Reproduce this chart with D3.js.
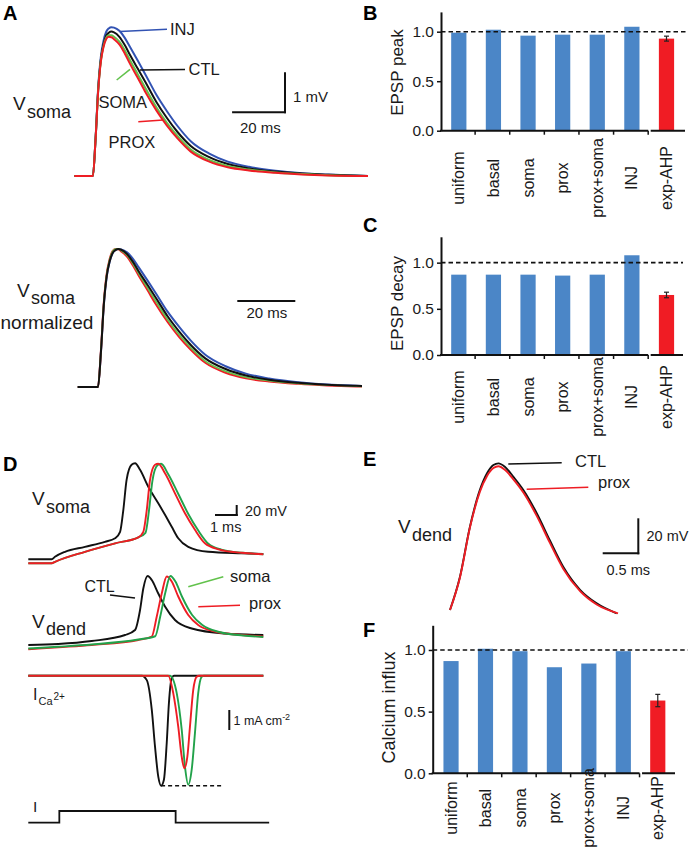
<!DOCTYPE html>
<html><head><meta charset="utf-8">
<script src="https://cdn.jsdelivr.net/npm/d3@7"></script>
<style>
body{margin:0;background:#fff;}
svg{display:block;font-family:"Liberation Sans",Arial,Helvetica,sans-serif;}
</style></head><body>
<svg id="fig" width="690" height="853"></svg>
<script>
// ================= DATA =================
// Panel A: somatic EPSP (time ms, amplitude mV)
const tA = [-1, 6, 7, 8, 9, 10, 11, 12, 13, 14, 16, 18, 20, 23, 26, 30, 34, 38, 43, 50, 57, 65, 75, 85, 95, 110];
const epspINJ  = [0, 0, 0.92, 2.2, 2.97, 3.37, 3.6, 3.69, 3.72, 3.71, 3.63, 3.46, 3.23, 2.88, 2.52, 2.03, 1.62, 1.25, 0.87, 0.56, 0.36, 0.23, 0.13, 0.07, 0.035, 0];
const epspCTL  = [0, 0, 0.9, 2.15, 2.9, 3.28, 3.5, 3.58, 3.61, 3.59, 3.48, 3.28, 3.03, 2.68, 2.33, 1.85, 1.45, 1.1, 0.75, 0.47, 0.3, 0.19, 0.11, 0.06, 0.03, 0];
const epspSOMA = [0, 0, 0.9, 2.13, 2.87, 3.24, 3.45, 3.52, 3.52, 3.48, 3.36, 3.15, 2.9, 2.54, 2.18, 1.72, 1.33, 1.0, 0.66, 0.4, 0.25, 0.16, 0.09, 0.05, 0.02, 0];
const epspPROX = [0, 0, 0.9, 2.12, 2.85, 3.22, 3.42, 3.48, 3.47, 3.42, 3.29, 3.07, 2.81, 2.45, 2.08, 1.64, 1.26, 0.94, 0.61, 0.36, 0.22, 0.14, 0.08, 0.04, 0.015, 0];

// Bar panels B, C, F
const categories = ["uniform", "basal", "soma", "prox", "prox+soma", "INJ", "exp-AHP"];
const peakVals  = [0.99, 1.02, 0.96, 0.97, 0.97, 1.05, 0.93];
const peakErr   = [0, 0, 0, 0, 0, 0, 0.025];
const decayVals = [0.87, 0.87, 0.87, 0.86, 0.87, 1.08, 0.65];
const decayErr  = [0, 0, 0, 0, 0, 0, 0.03];
const caVals    = [0.91, 1.01, 0.99, 0.86, 0.89, 0.99, 0.59];
const caErr     = [0, 0, 0, 0, 0, 0, 0.05];
const barTicks  = [0, 0.5, 1.0];

// Panel D: [time ms, value]  (V in mV relative, I in mA cm-2)
const dSomaCTL  = [[0,0],[1.08,0],[1.23,5],[1.69,15],[2.61,25],[3.53,35],[4.0,42],[4.23,55],[4.38,99],[4.53,159],[4.76,189],[4.92,192],[5.15,179],[5.53,145],[5.99,112],[6.3,89],[6.61,65],[6.91,42],[7.37,25],[8.29,15],[9.83,12],[10.83,10.6]];
const dSomaSOMA = [[0,-8],[1.08,-8],[1.23,-5],[2.61,15],[4.0,32],[5.07,44],[5.4,53],[5.56,97],[5.72,157],[5.95,188],[6.12,191],[6.45,170],[6.92,130],[7.38,90],[7.84,57],[8.3,31],[8.9,19.5],[9.9,13],[10.83,10]];
const dSomaPROX = [[0,-8],[1.08,-8],[1.23,-5],[2.61,15],[4.0,32],[5.07,44],[5.3,55],[5.46,99],[5.61,159],[5.84,189],[5.99,191],[6.3,172],[6.76,132],[7.22,92],[7.68,59],[8.14,32],[8.76,20],[9.83,13],[10.83,10]];
const dDendCTL  = [[0,0],[1.38,2],[2.92,8],[4.46,20],[4.92,30],[5.15,70],[5.3,113],[5.5,138],[5.69,130],[5.99,103],[6.3,77],[6.76,50],[7.53,33],[9.06,23],[10.83,20]];
const dDendPROX = [[0,-8.6],[1.38,-4.6],[2.92,0],[5.07,10],[5.69,17],[5.92,57],[6.15,103],[6.38,137],[6.61,127],[6.91,97],[7.37,60],[7.83,40],[8.6,27],[9.83,20],[10.83,17]];
const dDendSOMA = [[0,-7],[1.38,-3.5],[2.92,1],[5.07,11],[5.85,17.5],[6.08,57],[6.31,104],[6.55,138],[6.78,127],[7.08,97],[7.55,60],[8.02,40],[8.8,26],[9.9,19],[10.83,16]];
const caCTL  = [[0,0],[5.23,0],[5.46,-0.22],[5.69,-1.7],[5.84,-3.55],[5.99,-5.05],[6.12,-5.5],[6.25,-5.2],[6.38,-3.35],[6.48,-1.37],[6.61,-0.12],[6.71,0],[10.83,0]];
const caPROX = [[0,0],[6.45,0],[6.68,-0.87],[6.91,-2.55],[7.07,-4.05],[7.19,-4.63],[7.33,-4.05],[7.45,-2.55],[7.6,-0.72],[7.76,-0.05],[7.87,0],[10.83,0]];
const caSOMA = [[0,0],[6.53,0],[6.84,-0.87],[7.07,-2.7],[7.22,-4.55],[7.37,-5.45],[7.53,-4.7],[7.68,-2.87],[7.83,-0.87],[7.99,-0.05],[8.1,0],[10.83,0]];
const caDashEnd = 8.99;
const stepT = [0, 1.43, 1.43, 6.79, 6.79, 11.1];
const stepI = [0, 0, 1, 1, 0, 0];

// Panel E: dendritic spike [time ms, mV]
const eCTL  = [[0,1.9],[0.14,20.9],[0.28,49.5],[0.42,70.5],[0.52,80],[0.61,84.7],[0.68,85.7],[0.77,83.8],[0.89,78],[1.03,70.5],[1.22,57.1],[1.4,41.9],[1.59,26.6],[1.83,13.3],[2.06,5.7],[2.34,0]];
const ePROX = [[0,1.9],[0.14,20.5],[0.28,49],[0.42,69.5],[0.52,78.5],[0.61,83],[0.68,84],[0.77,82],[0.89,76.5],[1.03,69],[1.22,55.5],[1.4,40.5],[1.59,25.5],[1.83,12.5],[2.06,5],[2.36,0]];

// ================= STYLE =================
const BLACK = "#111111", RED = "#ee1d24", BLUE_TR = "#3253b3", GREEN = "#22a24a", GREEN_L = "#62c24c";
const BAR_BLUE = "#4b86c7", BAR_RED = "#f01c24", TXT = "#1a1a1a";

const svg = d3.select("#fig");
function txt(x, y, s, size, o = {}) {
  const t = svg.append("text").attr("x", x).attr("y", y).text(s)
    .attr("font-size", size).attr("fill", o.fill || TXT);
  if (o.bold) t.attr("font-weight", "bold");
  if (o.anchor) t.attr("text-anchor", o.anchor);
  return t;
}
function vlab(x, y, sub) { txt(x, y, "V", 19); txt(x + 14, y + 7.5, sub, 18); }
function seg(x1, y1, x2, y2, col, w, dash) {
  const l = svg.append("line").attr("x1", x1).attr("y1", y1).attr("x2", x2).attr("y2", y2)
    .attr("stroke", col).attr("stroke-width", w).attr("stroke-linecap", "butt");
  if (dash) l.attr("stroke-dasharray", dash);
  return l;
}
function trace(g, data, x, y, col, w) {
  g.append("path").datum(data)
    .attr("d", d3.line().x(d => x(d[0])).y(d => y(d[1])).curve(d3.curveMonotoneX))
    .attr("fill", "none").attr("stroke", col).attr("stroke-width", w).attr("stroke-linejoin", "round");
}

// panel letters
[["A",3,20],["B",363,20],["C",363,232],["D",3,471],["E",363,466],["F",363,637]]
  .forEach(([s,x,y]) => txt(x, y, s, 20, {bold: true, fill: "#000"}));

// ================= PANEL A (top) =================
const xA = d3.scaleLinear().domain([0, 110]).range([77, 368]);
const yA = d3.scaleLinear().domain([0, 1]).range([176, 136]);
const gA = svg.append("g");
trace(gA, d3.zip(tA, epspINJ), xA, yA, BLUE_TR, 2);
trace(gA, d3.zip(tA, epspCTL), xA, yA, BLACK, 2);
trace(gA, d3.zip(tA, epspSOMA), xA, yA, GREEN_L, 2);
trace(gA, d3.zip(tA, epspPROX), xA, yA, RED, 2);
seg(120, 31.5, 167, 29.3, BLUE_TR, 1.6); txt(170, 35, "INJ", 16.5);
seg(140, 70, 185, 69.5, BLACK, 1.6); txt(188.5, 75, "CTL", 16.5);
seg(116.7, 80, 130, 69.3, GREEN_L, 1.6); txt(98.5, 108, "SOMA", 16.5);
seg(138.3, 121.7, 163.3, 120, RED, 1.6); txt(108.5, 148, "PROX", 16.5);
vlab(13, 110, "soma");
// scale bar 20 ms / 1 mV
{
  const cx = 285, cy = 112.3, w = xA(20) - xA(0), h = yA(0) - yA(1);
  seg(cx - w, cy, cx + 1, cy, BLACK, 2);
  seg(cx, cy + 1, cx, cy - h, BLACK, 2);
  txt(293, 102, "1 mV", 15);
  txt(240, 133, "20 ms", 15);
}

// ================= PANEL A (normalized) =================
const xAn = d3.scaleLinear().domain([6, 26]).range([98, 156]);
const yAn = d3.scaleLinear().domain([0, 1]).range([387, 249]);
svg.append("defs").append("clipPath").attr("id", "clipAn")
  .append("rect").attr("x", 0).attr("y", 230).attr("width", 362).attr("height", 170);
const gAn = svg.append("g").attr("clip-path", "url(#clipAn)");
const norm = arr => { const m = d3.max(arr); return arr.map(v => v / m); };
trace(gAn, d3.zip(tA, norm(epspINJ)), xAn, yAn, BLUE_TR, 2);
trace(gAn, d3.zip(tA, norm(epspPROX)), xAn, yAn, RED, 2);
trace(gAn, d3.zip(tA, norm(epspSOMA)), xAn, yAn, GREEN_L, 1.6);
trace(gAn, d3.zip(tA, norm(epspCTL)), xAn, yAn, BLACK, 2);
txt(17, 297, "V", 19); txt(31, 303.5, "soma", 18);
txt(0.5, 329, "normalized", 19);
{
  const x0 = 237.3, w = xAn(20) - xAn(0);
  seg(x0, 301, x0 + w, 301, BLACK, 2);
  txt(246.5, 318, "20 ms", 15);
}

// ================= BAR PANELS =================
function barPanel(o) {
  const g = svg.append("g");
  const y = d3.scaleLinear().domain([0, o.yMax]).range([o.y0, o.yTop]);
  const x = d3.scaleBand().domain(categories).range([o.b0, o.b1]).paddingInner(0.56).paddingOuter(0.28);
  const n = categories.length;
  g.selectAll("rect").data(o.vals).join("rect")
    .attr("x", (d, i) => x(categories[i])).attr("y", d => y(d))
    .attr("width", x.bandwidth()).attr("height", d => y(0) - y(d))
    .attr("fill", (d, i) => i === n - 1 ? BAR_RED : BAR_BLUE);
  // error bars
  o.vals.forEach((v, i) => {
    const e = o.errs[i]; if (!e) return;
    const cx = x(categories[i]) + x.bandwidth() / 2;
    g.append("line").attr("x1", cx).attr("x2", cx).attr("y1", y(v - e)).attr("y2", y(v + e)).attr("stroke", "#222").attr("stroke-width", 1.2);
    [v - e, v + e].forEach(vv => g.append("line").attr("x1", cx - 2.5).attr("x2", cx + 2.5).attr("y1", y(vv)).attr("y2", y(vv)).attr("stroke", "#222").attr("stroke-width", 1.2));
  });
  // reference dashed line
  g.append("line").attr("x1", o.ax).attr("x2", o.dashR).attr("y1", y(1)).attr("y2", y(1))
    .attr("stroke", BLACK).attr("stroke-width", 1.6).attr("stroke-dasharray", "4.5,3");
  // y axis
  const ya = g.append("g").attr("transform", `translate(${o.ax},0)`)
    .call(d3.axisLeft(y).tickValues(barTicks).tickFormat(d3.format(".1f")).tickSize(4).tickSizeOuter(0).tickPadding(3));
  ya.attr("font-family", null).attr("font-size", null);
  ya.selectAll("text").attr("font-size", 15.5).attr("fill", TXT);
  ya.select(".domain").attr("stroke", BLACK).attr("stroke-width", 2);
  ya.selectAll(".tick line").attr("stroke", BLACK).attr("stroke-width", 1.5);
  // x axis with break before last category
  const step = x.step();
  const bnd = d3.range(1, n).map(i => o.b0 + i * step);
  const brk = bnd[bnd.length - 1];
  g.append("line").attr("x1", o.ax - 1).attr("x2", brk - 1).attr("y1", y(0)).attr("y2", y(0)).attr("stroke", BLACK).attr("stroke-width", 2);
  g.append("line").attr("x1", brk + 1.5).attr("x2", o.axR).attr("y1", y(0)).attr("y2", y(0)).attr("stroke", BLACK).attr("stroke-width", 2);
  bnd.forEach(b => g.append("line").attr("x1", b - 1).attr("x2", b - 1).attr("y1", y(0)).attr("y2", y(0) + 4).attr("stroke", BLACK).attr("stroke-width", 1.5));
  // category labels
  categories.forEach(c => {
    g.append("text").attr("transform", `translate(${x(c) + x.bandwidth() / 2},${o.labC}) rotate(-90)`)
      .attr("text-anchor", "middle").attr("dy", "0.35em").attr("font-size", 16).attr("fill", TXT).text(c);
  });
  // y title
  g.append("text").attr("transform", `translate(${o.titleX},${o.titleY}) rotate(-90)`)
    .attr("text-anchor", "middle").attr("font-size", o.titleSize).attr("fill", TXT).text(o.title);
}
barPanel({vals: peakVals, errs: peakErr, yMax: 1.2, y0: 130.7, yTop: 11.9, b0: 441.5, b1: 683.8,
  ax: 441, axR: 685, dashR: 687, labC: 178, titleX: 402.5, titleY: 72.5, titleSize: 17, title: "EPSP peak"});
barPanel({vals: decayVals, errs: decayErr, yMax: 1.28, y0: 355, yTop: 236.8, b0: 441.5, b1: 683.8,
  ax: 441, axR: 683, dashR: 683, labC: 397, titleX: 402.5, titleY: 303.5, titleSize: 17, title: "EPSP decay"});
barPanel({vals: caVals, errs: caErr, yMax: 1.2, y0: 773.3, yTop: 625.3, b0: 433.8, b1: 675,
  ax: 432.7, axR: 675, dashR: 688, labC: 808, titleX: 395, titleY: 707.5, titleSize: 18, title: "Calcium influx"});

// ================= PANEL D =================
const xD = d3.scaleLinear().domain([0, 10.83]).range([28.3, 263.3]);
const yDs = d3.scaleLinear().domain([0, 20]).range([559.3, 549.3]);
const yDd = d3.scaleLinear().domain([0, 20]).range([645, 635]);
const yCa = d3.scaleLinear().domain([0, -1]).range([675.7, 695.7]);
const yStep = d3.scaleLinear().domain([0, 1]).range([822.7, 811]);
const gD = svg.append("g");
trace(gD, dSomaCTL, xD, yDs, BLACK, 1.9);
trace(gD, dSomaSOMA, xD, yDs, GREEN, 1.9);
trace(gD, dSomaPROX, xD, yDs, RED, 1.9);
trace(gD, dDendCTL, xD, yDd, BLACK, 1.9);
trace(gD, dDendPROX, xD, yDd, RED, 1.9);
trace(gD, dDendSOMA, xD, yDd, GREEN, 1.9);
trace(gD, caCTL, xD, yCa, BLACK, 1.9);
trace(gD, caSOMA, xD, yCa, GREEN, 1.9);
trace(gD, caPROX, xD, yCa, RED, 1.9);
{
  const mn = d3.min(caCTL, d => d[1]);
  const tMin = caCTL.find(d => d[1] === mn)[0];
  gD.append("line").attr("x1", xD(tMin)).attr("x2", xD(caDashEnd)).attr("y1", yCa(mn)).attr("y2", yCa(mn))
    .attr("stroke", BLACK).attr("stroke-width", 1.6).attr("stroke-dasharray", "4,3");
}
gD.append("path").datum(d3.zip(stepT, stepI))
  .attr("d", d3.line().x(d => xD(d[0])).y(d => yStep(d[1])))
  .attr("fill", "none").attr("stroke", BLACK).attr("stroke-width", 1.8);
vlab(32, 505, "soma");
vlab(32, 627.5, "dend");
seg(110, 595, 135, 598, BLACK, 1.6); txt(84.5, 592, "CTL", 16);
seg(188.3, 586.7, 223.3, 576.7, GREEN_L, 1.6); txt(230, 582, "soma", 16.5);
seg(198.3, 606.7, 240, 605.3, RED, 1.6); txt(249, 609, "prox", 16.5);
{
  const cx = 236.7, cy = 515, w = xD(1) - xD(0), h = yDs(0) - yDs(20);
  seg(cx - w, cy, cx + 1, cy, BLACK, 2);
  seg(cx, cy + 1, cx, cy - h, BLACK, 2);
  txt(245, 515.5, "20 mV", 14.5);
  txt(210, 532, "1 ms", 14.5);
}
{
  const h = yCa(-1) - yCa(0);
  seg(229.3, 710, 229.3, 710 + h, BLACK, 2);
  const t = txt(233.5, 725, "1 mA cm", 12.5);
  t.append("tspan").attr("dy", -5).attr("font-size", 9).text("-2");
}
txt(33, 700, "I", 16); txt(38.5, 705, "Ca", 11); txt(53.5, 700, "2+", 10);
txt(33, 811.7, "I", 15.5);

// ================= PANEL E =================
const xE = d3.scaleLinear().domain([0, 0.5]).range([450, 485.6]);
const yE = d3.scaleLinear().domain([0, 20]).range([613.3, 578.3]);
const gE = svg.append("g");
trace(gE, eCTL, xE, yE, BLACK, 1.9);
trace(gE, ePROX, xE, yE, RED, 1.9);
seg(508.3, 464, 561.7, 462.7, BLACK, 1.6); txt(575, 467, "CTL", 16.5);
seg(526.7, 489.3, 588.3, 487.3, RED, 1.6); txt(598, 488, "prox", 16.5);
vlab(398, 533, "dend");
{
  const cx = 638.3, cy = 553.3, w = xE(0.5) - xE(0), h = yE(0) - yE(20);
  seg(cx - w, cy, cx + 1, cy, BLACK, 2);
  seg(cx, cy + 1, cx, cy - h, BLACK, 2);
  txt(646.5, 541, "20 mV", 14.5);
  txt(606.5, 575, "0.5 ms", 14.5);
}
</script>
</body></html>
